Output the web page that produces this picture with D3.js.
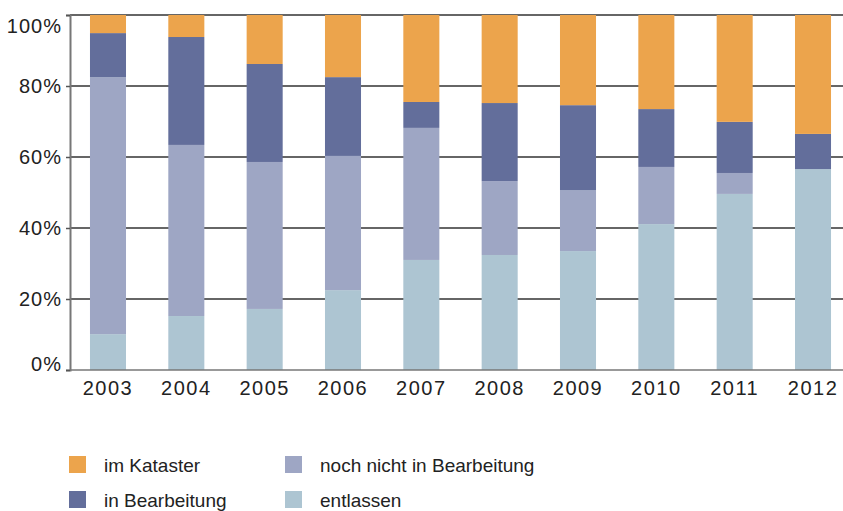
<!DOCTYPE html>
<html>
<head>
<meta charset="utf-8">
<script src="https://cdn.jsdelivr.net/npm/d3@7"></script>
<style>
  body { margin: 0; background: #fff; }
  text { font-family: "Liberation Sans", Arial, sans-serif; fill: #222; }
</style>
</head>
<body>
<div id="chart"></div>
<script>
// data, in percent per year (stacked from the bottom)
const years = ["2003", "2004", "2005", "2006", "2007", "2008", "2009", "2010", "2011", "2012"];
const entlassen = [10.1, 15.2, 17.2, 22.5, 31.0, 32.4, 33.5, 41.1, 49.6, 56.6];
const nochNicht = [72.4, 48.2, 41.4, 37.8, 37.2, 20.8, 17.2, 16.1, 5.9, 0];
const inBearbeitung = [12.4, 30.4, 27.6, 22.2, 7.3, 22.0, 23.9, 16.3, 14.4, 9.9];
const imKataster = [5.1, 6.2, 13.8, 17.5, 24.5, 24.8, 25.4, 26.5, 30.1, 33.5];
const yTicks = [0, 20, 40, 60, 80, 100];

const seriesKeys = ["entlassen", "noch nicht in Bearbeitung", "in Bearbeitung", "im Kataster"];
const colors = ["#adc5d2", "#9ea6c4", "#636e9b", "#eca44c"];

const width = 843, height = 511;
const margin = { top: 15, right: 0, bottom: 141, left: 70 };

const svg = d3.select("#chart").append("svg")
  .attr("width", width)
  .attr("height", height);

const rows = years.map((y, i) => ({
  year: y,
  "entlassen": entlassen[i],
  "noch nicht in Bearbeitung": nochNicht[i],
  "in Bearbeitung": inBearbeitung[i],
  "im Kataster": imKataster[i]
}));

const x = d3.scaleBand()
  .domain(years)
  .range([margin.left, 851])
  .paddingInner(0.54)
  .paddingOuter(0.255);

const y = d3.scaleLinear()
  .domain([0, 100])
  .range([height - margin.bottom, margin.top]);

// grid lines
svg.append("g")
  .selectAll("line")
  .data(yTicks.filter(d => d > 0))
  .join("line")
  .attr("x1", margin.left)
  .attr("x2", width)
  .attr("y1", d => y(d))
  .attr("y2", d => y(d))
  .attr("stroke", "#333")
  .attr("stroke-width", 1.5);

// stacked bars
const stacked = d3.stack().keys(seriesKeys)(rows);

svg.append("g")
  .selectAll("g")
  .data(stacked)
  .join("g")
  .attr("fill", (d, i) => colors[i])
  .selectAll("rect")
  .data(d => d)
  .join("rect")
  .attr("x", d => x(d.data.year))
  .attr("width", x.bandwidth())
  .attr("y", d => y(d[1]))
  .attr("height", d => y(d[0]) - y(d[1]));

// y axis
const yAxis = svg.append("g")
  .attr("transform", `translate(${margin.left},0)`)
  .call(d3.axisLeft(y).tickValues(yTicks).tickSize(4).tickFormat(d => d + "%"));
yAxis.select(".domain").attr("stroke", "#777").attr("stroke-width", 2);
yAxis.selectAll(".tick line").attr("stroke", "#555").attr("stroke-width", 1.5);
yAxis.selectAll(".tick text")
  .attr("x", -8)
  .attr("font-size", 20)
  .attr("letter-spacing", 1)
  .attr("font-family", "Liberation Sans, Arial, sans-serif")
  .attr("fill", "#222")
  .attr("dy", d => d === 100 ? "0.85em" : d === 0 ? "0" : "0.32em");

// x axis
const xAxis = svg.append("g")
  .attr("transform", `translate(0,${y(0)})`)
  .call(d3.axisBottom(x).tickSize(0).tickPadding(11));
xAxis.select(".domain").attr("stroke", "#777").attr("stroke-width", 1.5)
  .attr("d", `M${margin.left},0H${width}`);
xAxis.selectAll(".tick text")
  .attr("font-size", 20)
  .attr("letter-spacing", 1.5)
  .attr("font-family", "Liberation Sans, Arial, sans-serif")
  .attr("fill", "#222");

// legend
const legendItems = [
  { key: "im Kataster", col: 0, row: 0 },
  { key: "noch nicht in Bearbeitung", col: 1, row: 0 },
  { key: "in Bearbeitung", col: 0, row: 1 },
  { key: "entlassen", col: 1, row: 1 }
];
const legend = svg.append("g")
  .selectAll("g")
  .data(legendItems)
  .join("g")
  .attr("transform", d => `translate(${69 + d.col * 216},${456 + d.row * 35})`);

legend.append("rect")
  .attr("width", 17)
  .attr("height", 17)
  .attr("fill", d => colors[seriesKeys.indexOf(d.key)]);

legend.append("text")
  .attr("x", 35)
  .attr("y", 9)
  .attr("dy", "0.35em")
  .attr("font-size", 19)
  .text(d => d.key);
</script>
</body>
</html>
